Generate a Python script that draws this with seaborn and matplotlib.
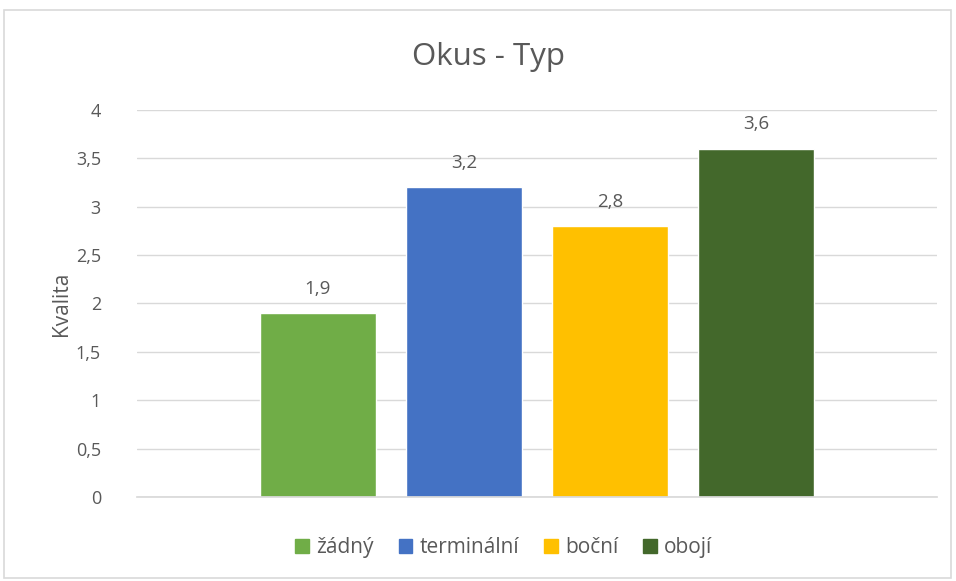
import pandas as pd
import matplotlib.pyplot as plt
import matplotlib.patches as mpatches
import seaborn as sns

# data
categories = ["žádný", "terminální", "boční", "obojí"]
values = [1.9, 3.2, 2.8, 3.6]
colors = ["#70AD47", "#4472C4", "#FFC000", "#43682B"]
yticks = [0, 0.5, 1, 1.5, 2, 2.5, 3, 3.5, 4]

df = pd.DataFrame({"group": ["Okus"] * len(categories), "typ": categories, "kvalita": values})

sns.set_theme(style="white")
plt.rcParams["font.family"] = ["Open Sans", "DejaVu Sans"]
grey = "#595959"

fig = plt.figure(figsize=(9.56, 5.81), dpi=100)
ax = fig.add_axes([0.1433, 0.1446, 0.8367, 0.6661])

sns.barplot(data=df, x="group", y="kvalita", hue="typ", hue_order=categories,
            palette=colors, width=0.73, gap=0.21, dodge=True, ax=ax,
            legend=False, saturation=1)

for cont in ax.containers:
    ax.bar_label(cont, labels=[f"{v:.1f}".replace(".", ",") for v in cont.datavalues],
                 padding=11, fontsize=13.5, color=grey)

ax.set_xlim(-0.5, 0.5)
ax.set_ylim(0, 4)
ax.set_yticks(yticks)
ax.set_yticklabels([f"{t:g}".replace(".", ",") for t in yticks], fontsize=13, color=grey)
ax.tick_params(axis="y", length=0, pad=26)
ax.set_xticks([])
ax.set_xlabel("")
ax.set_ylabel("Kvalita", fontsize=15, color=grey, labelpad=3)
ax.grid(axis="y", color="#D9D9D9", linewidth=1)
ax.set_axisbelow(True)
for s in ["top", "right", "left"]:
    ax.spines[s].set_visible(False)
ax.spines["bottom"].set_color("#D9D9D9")

fig.text(0.5115, 0.902, "Okus - Typ", ha="center", va="center", fontsize=22.5, color=grey)

handles = [mpatches.Patch(color=c, label=l) for c, l in zip(colors, categories)]
fig.legend(handles=handles, loc="center", bbox_to_anchor=(0.527, 0.057), ncol=4,
           frameon=False, fontsize=15, labelcolor=grey, handlelength=0.65,
           handleheight=0.65, handletextpad=0.35, columnspacing=1.2)

border = mpatches.Rectangle((0.004, 0.005), 0.991, 0.978, transform=fig.transFigure,
                            fill=False, edgecolor="#D9D9D9", linewidth=1.2)
fig.patches.append(border)

fig.savefig("out.png", dpi=100)
